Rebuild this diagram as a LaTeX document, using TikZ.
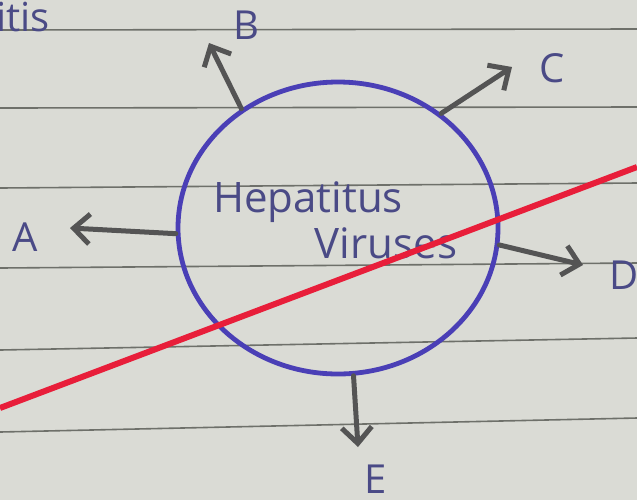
\documentclass[tikz,border=0pt]{standalone}
\usepackage{fontspec}
\setmainfont{Open Sans}
\usetikzlibrary{shapes.geometric,arrows.meta}

\definecolor{paper}{HTML}{DADBD5}
\definecolor{rule}{HTML}{6E706A}
\definecolor{pen}{HTML}{4A3FB6}
\definecolor{ink}{HTML}{4A4A86}
\definecolor{pencil}{HTML}{545454}
\definecolor{strike}{HTML}{E81E3A}

\tikzstyle{virus} = [ellipse, draw=pen, line width=2.4pt, minimum width=160pt, minimum height=146pt, inner sep=0pt]
\tikzstyle{branch} = [draw=pencil, line width=2.5pt, line cap=round, line join=round, -{Straight Barb[length=8pt,width=15pt]}]
\tikzstyle{tag} = [text=ink, font=\fontsize{20}{20}\selectfont, inner sep=0pt]
\tikzstyle{title} = [text=ink, font=\fontsize{21}{21}\selectfont, inner sep=0pt, anchor=base]
\tikzstyle{ruled} = [draw=rule, line width=0.8pt]

\begin{document}
\begin{tikzpicture}[x=0.5pt, y=-0.5pt]
\fill[paper] (0,0) rectangle (637,500);
\useasboundingbox (0,0) rectangle (637,500);
\foreach \l/\r in {30/29, 108/107, 188/183, 268/263, 350/338, 432/418}
    \draw[ruled] (0,\l) -- (637,\r);

\node[tag, anchor=west] (note) at (-4,17) {itis};

\node[virus] (virus) at (338,228) {};
\node[title] (hep) at (308,212) {Hepatitus};
\node[title] (vir) at (386,258) {Viruses};

\coordinate (tipA) at (70,228);
\coordinate (tipB) at (209,43);
\coordinate (tipC) at (512,67);
\coordinate (tipD) at (583,265);
\coordinate (tipE) at (358,447);

\draw[branch] (virus.182) -- (tipA);
\draw[branch] (virus.129) -- (tipB);
\draw[branch] (virus.48) -- (tipC);
\draw[branch] (virus.-6) -- (tipD);
\draw[branch] (virus.-84) -- (tipE);

\node[tag] (labA) at (25,237) {A};
\node[tag] (labB) at (246,25) {B};
\node[tag] (labC) at (552,68) {C};
\node[tag] (labD) at (624,275) {D};
\node[tag] (labE) at (376,479) {E};

\draw[strike, line width=3pt] (0,408) -- (637,167);
\end{tikzpicture}
\end{document}
